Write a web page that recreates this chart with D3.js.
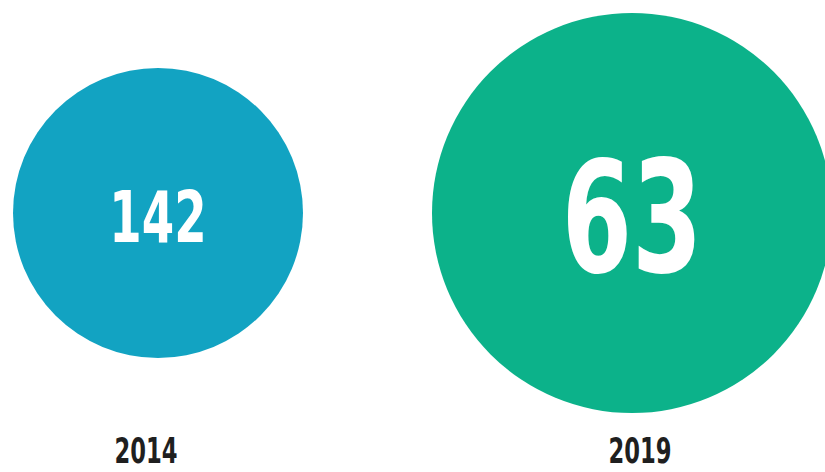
<!DOCTYPE html>
<html>
<head>
<meta charset="utf-8">
<script src="https://cdn.jsdelivr.net/npm/d3@7.9.0/dist/d3.min.js"></script>
<style>
  body { margin: 0; background: #fff; }
  svg { display: block; }
  text { font-family: "DejaVu Sans Condensed", "DejaVu Sans", sans-serif; font-weight: bold; }
</style>
</head>
<body>
<svg width="825" height="472"></svg>
<script>
// data
const years = ['2014', '2019'];
const counts = [142, 63];

const width = 825, height = 472;
const svg = d3.select('svg');
const squeeze = 0.72; // the source font is very condensed

// bubble centres and year labels
let x = d3.scalePoint().domain(years).range([158, 632]);
let xLabel = d3.scalePoint().domain(years).range([146, 640]);
let radius = d3.scaleOrdinal().domain(years).range([145, 200]);
let colors = d3.scaleOrdinal().domain(years).range(['#12a3c2', '#0cb28a']);
let numSize = d3.scaleOrdinal().domain(years).range([72, 156]);

let data = years.map((y, i) => ({ year: y, value: counts[i] }));

let g = svg.selectAll('g.bubble')
  .data(data)
  .join('g')
  .attr('class', 'bubble');

g.append('circle')
  .attr('cx', d => x(d.year))
  .attr('cy', 213)
  .attr('r', d => radius(d.year))
  .attr('fill', d => colors(d.year));

g.append('text')
  .attr('transform', d => `translate(${x(d.year)},216) scale(${squeeze},1)`)
  .attr('dy', '0.36em')
  .attr('text-anchor', 'middle')
  .attr('fill', '#fff')
  .style('font-size', d => numSize(d.year) + 'px')
  .text(d => d.value);

g.append('text')
  .attr('transform', d => `translate(${xLabel(d.year)},463) scale(${squeeze},1)`)
  .attr('text-anchor', 'middle')
  .attr('fill', '#1f1f1f')
  .style('font-size', '35px')
  .text(d => d.year);
</script>
</body>
</html>
